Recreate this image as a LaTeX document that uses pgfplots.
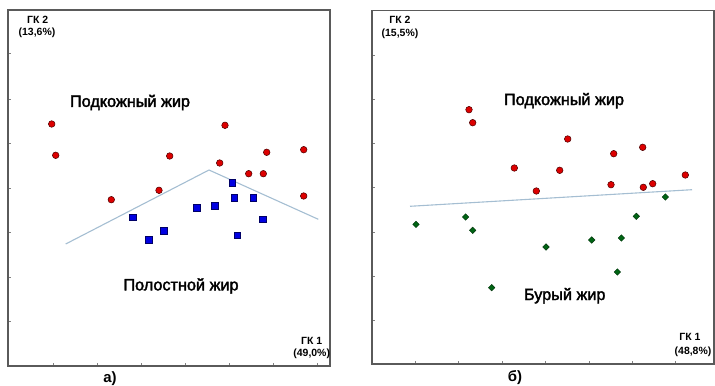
\documentclass[border=0pt]{standalone}
\usepackage{pgfplots}
\pgfplotsset{compat=1.18}
\usepackage{fontspec}
\setmainfont{Liberation Sans}
\newfontfamily\semib[FakeBold=2.2]{Liberation Sans}
\definecolor{ptred}{RGB}{220,0,0}
\definecolor{ptblue}{RGB}{0,0,225}
\definecolor{ptgreen}{RGB}{0,100,20}
\definecolor{sepline}{RGB}{165,190,210}
\definecolor{frame}{RGB}{90,90,90}
\pgfplotsset{
  panel/.style={
    scale only axis, clip=false,
    axis line style={frame, line width=1.2bp},
    tick style={gray, line width=0.6bp},
    major tick length=3bp,
    xtick pos=bottom, ytick pos=left,
    xticklabels={}, yticklabels={},
  },
  redpt/.style={only marks, mark=*, mark size=3.3bp, mark options={fill=ptred, draw=black!70!red, line width=0.5bp}},
  bluept/.style={only marks, mark=square*, mark size=3.3bp, mark options={fill=ptblue, draw=black!60!blue, line width=0.5bp}},
  greenpt/.style={only marks, mark=square*, mark size=2.3bp, mark options={rotate=45, fill=ptgreen, draw=black!50!ptgreen, line width=0.4bp}},
  sep/.style={sepline, line width=1.1bp, no marks},
}
\tikzset{
  big/.style={font=\semib\fontsize{16.3}{19}\selectfont},
  small/.style={font=\bfseries\fontsize{10.5}{12}\selectfont},
}
\begin{document}
\begin{tikzpicture}[x=1bp,y=1bp]
\useasboundingbox (0,0) rectangle (715,385);
% ---------------- panel a ----------------
\begin{axis}[panel, at={(8bp,19bp)}, anchor=south west,
  width=322bp, height=356bp,
  xmin=8, xmax=330, ymin=19, ymax=375,
  xtick={53,97,141,185,229,273,317},
  ytick={64,108,153,197,242,286,332}]
\addplot[sep] coordinates {(65.7,141) (209,215) (318.3,165.7)};
\addplot[redpt] coordinates {
(51.7,261) (55.7,229.7) (111.3,185.3) (159,194.7) (169.7,229) (219.7,222)
(225,259.7) (248.7,211.3) (263.3,211.3) (266.7,232.7) (303.7,235.3) (303.7,189)};
\addplot[bluept] coordinates {
(133,167.7) (148.7,145) (164,154.3) (196.7,177.3) (214.7,179.3) (232.3,202)
(234.3,187) (237.3,149.7) (253.3,187) (262.7,165.7)};
\node[big] at (axis cs:130,282.5) {Подкожный жир};
\node[big] at (axis cs:181,99) {Полостной жир};
\node[small] at (axis cs:37.7,365) {ГК 2};
\node[small] at (axis cs:37,352) {(13,6\%)};
\node[small] at (axis cs:311.7,44.3) {ГК 1};
\node[small] at (axis cs:311.7,31) {(49,0\%)};
\node[font=\bfseries\fontsize{15}{17}\selectfont] at (axis cs:110,6) {а)};
\end{axis}
% ---------------- panel b ----------------
\begin{axis}[panel, at={(372bp,21bp)}, anchor=south west,
  width=342bp, height=353.5bp,
  xmin=372, xmax=714, ymin=21, ymax=374.5,
  xtick={415,458,502,545,589,632,675},
  ytick={65,109,153,198,242,286,330}]
\addplot[sep] coordinates {(410,178.7) (692,195.3)};
\addplot[redpt] coordinates {
(469,275.3) (472.7,262.3) (514.3,217) (536.3,194) (559.7,214.7) (567.7,246)
(611,200.3) (613.7,231.3) (642.7,237.7) (643.3,197.7) (652.7,201.3) (685.3,210)};
\addplot[greenpt] coordinates {
(416,160.7) (465.7,168) (472.7,154.7) (491.7,97.3) (546,138) (591.7,145)
(617.3,113) (621.3,147) (636.3,168.7) (665.3,188)};
\node[big] at (axis cs:564,284.3) {Подкожный жир};
\node[big] at (axis cs:564.7,89.3) {Бурый жир};
\node[small] at (axis cs:400,365) {ГК 2};
\node[small] at (axis cs:400,351) {(15,5\%)};
\node[small] at (axis cs:690,48) {ГК 1};
\node[small] at (axis cs:693,33) {(48,8\%)};
\node[font=\bfseries\fontsize{15}{17}\selectfont] at (axis cs:515,7) {б)};
\end{axis}
\end{tikzpicture}
\end{document}
